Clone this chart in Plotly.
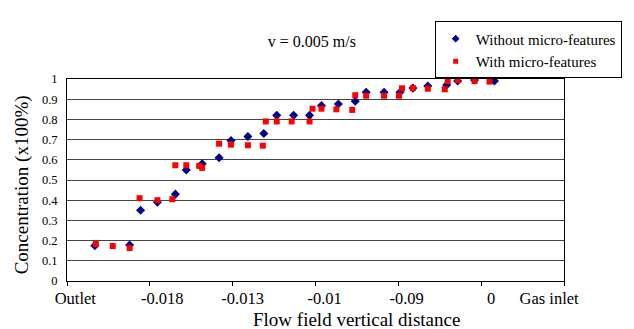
import plotly.graph_objects as go

# category labels along the flow-field axis (band units 0..6) and band boundaries
cat_labels = ["Outlet", "-0.018", "-0.013", "-0.01", "-0.09", "0", "Gas inlet"]
label_pos = [0.1, 1.15, 2.12, 3.11, 4.1, 5.12, 5.82]
boundary_ticks = [0, 1, 2, 3, 4, 5, 6]

# series: position along the flow field (band units) and concentration
x_without = [0.336, 0.756, 0.888, 1.092, 1.308, 1.44, 1.632, 1.836, 1.98, 2.184,
             2.376, 2.532, 2.736, 2.928, 3.072, 3.276, 3.48, 3.612, 3.828, 4.02,
             4.176, 4.356, 4.584, 4.716, 4.92, 5.16]
y_without = [0.175, 0.178, 0.35, 0.39, 0.43, 0.55, 0.58, 0.61, 0.695, 0.715,
             0.73, 0.82, 0.82, 0.82, 0.868, 0.876, 0.89, 0.934, 0.934, 0.934,
             0.955, 0.965, 0.97, 0.99, 0.995, 0.99]

x_with = [0.348, 0.552, 0.756, 0.876, 1.092, 1.272, 1.308, 1.44, 1.596, 1.632,
          1.836, 1.98, 2.184, 2.364, 2.4, 2.532, 2.712, 2.928, 2.964, 3.072,
          3.252, 3.444, 3.48, 3.612, 3.828, 4.008, 4.044, 4.176, 4.356, 4.56,
          4.596, 4.716, 4.92, 5.1]
y_with = [0.183, 0.173, 0.163, 0.41, 0.40, 0.405, 0.573, 0.573, 0.57, 0.56,
          0.68, 0.675, 0.672, 0.67, 0.79, 0.79, 0.79, 0.79, 0.853, 0.853,
          0.85, 0.847, 0.92, 0.917, 0.917, 0.917, 0.954, 0.955, 0.952, 0.949,
          0.99, 0.995, 0.99, 0.987]

y_ticks = [0, 0.1, 0.2, 0.3, 0.4, 0.5, 0.6, 0.7, 0.8, 0.9, 1]
y_ticktext = ["0", "0.1", "0.2", "0.3", "0.4", "0.5", "0.6", "0.7", "0.8", "0.9", "1"]

title_text = "v = 0.005 m/s"
x_title = "Flow field vertical distance"
y_title = "Concentration (x100%)"

FONT = "Times New Roman, Liberation Serif, serif"
BLUE = "#00008B"
RED = "#FF0000"

fig = go.Figure()
fig.add_trace(go.Scatter(
    x=x_without, y=y_without, mode="markers", name="Without micro-features",
    marker=dict(symbol="diamond", size=7, color=BLUE), showlegend=False,
))
fig.add_trace(go.Scatter(
    x=x_with, y=y_with, mode="markers", name="With micro-features",
    marker=dict(symbol="square", size=6, color=RED), showlegend=False,
))
# legend entries with small symbols
fig.add_trace(go.Scatter(x=[None], y=[None], mode="markers", name="Without micro-features",
                         marker=dict(symbol="diamond", size=6, color=BLUE)))
fig.add_trace(go.Scatter(x=[None], y=[None], mode="markers", name="With micro-features",
                         marker=dict(symbol="square", size=5, color=RED)))
# invisible trace carrying the boundary tick axis
fig.add_trace(go.Scatter(x=[0, 6], y=[0, 0], mode="markers", xaxis="x2",
                         marker=dict(opacity=0), showlegend=False, hoverinfo="skip"))

fig.update_layout(
    width=634, height=329,
    margin=dict(l=67, r=67, t=79, b=48),
    paper_bgcolor="white", plot_bgcolor="white",
    font=dict(family=FONT, color="black", size=14),
    title=dict(text=title_text, x=0.492, xanchor="center", y=0.875, yanchor="middle",
               font=dict(family=FONT, size=16, color="black")),
    showlegend=True,
    legend=dict(
        x=1.116, xanchor="right", y=1.285, yanchor="top",
        bordercolor="black", borderwidth=1, bgcolor="white",
        font=dict(family=FONT, size=15, color="black"),
        tracegroupgap=0, itemwidth=30,
    ),
    xaxis=dict(
        range=[0, 6], tickvals=label_pos, ticktext=cat_labels, ticks="",
        showgrid=False, zeroline=False, showline=True, linecolor="black", linewidth=1,
        mirror=True, tickfont=dict(family=FONT, size=16.5), ticklabeloverflow="allow",
        ticklabelstandoff=2, automargin=False,
    ),
    xaxis2=dict(
        overlaying="x", matches="x", range=[0, 6], tickvals=boundary_ticks,
        showticklabels=False, ticks="outside", ticklen=4, tickcolor="black", tickwidth=1,
        showgrid=False, zeroline=False, showline=False, side="bottom", automargin=False,
    ),
    yaxis=dict(
        range=[0, 1], tickvals=y_ticks, ticktext=y_ticktext, ticks="",
        showgrid=True, gridcolor="#444444", gridwidth=1, ticklabelstandoff=6,
        zeroline=False, showline=True, linecolor="black", linewidth=1, mirror=True,
        tickfont=dict(family=FONT, size=12.5), automargin=False,
    ),
    annotations=[
        dict(text=x_title, xref="paper", yref="paper", x=0.582, y=-0.193,
             xanchor="center", yanchor="middle", showarrow=False,
             font=dict(family=FONT, size=19, color="black")),
        dict(text=y_title, xref="paper", yref="paper", x=-0.09, y=0.475,
             xanchor="center", yanchor="middle", showarrow=False, textangle=-90,
             font=dict(family=FONT, size=19, color="black")),
    ],
)

fig.write_html("out.html")
